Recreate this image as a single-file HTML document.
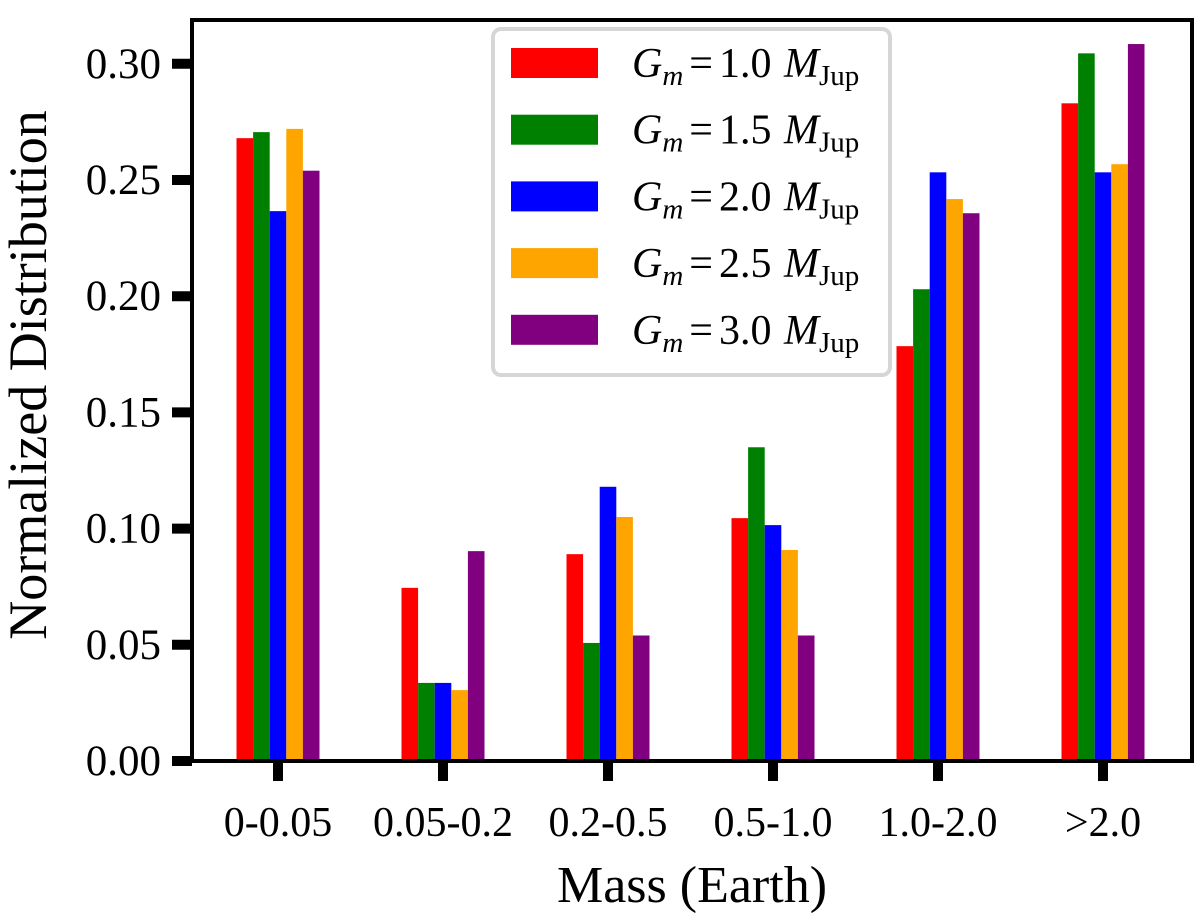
<!DOCTYPE html>
<html><head><meta charset="utf-8"><style>
body{margin:0;background:#fff}
svg{display:block;font-family:"Liberation Serif","DejaVu Serif",serif}
</style></head><body>
<svg id="chart" width="1200" height="913">
<g id="bars"></g>
<rect x="192" y="20" width="1000" height="741" fill="none" stroke="#000" stroke-width="4"/>
<g id="yaxis"></g>
<g id="xaxis"></g>
<text x="46" y="375" font-size="54" text-anchor="middle" transform="rotate(-90 46 375)">Normalized Distribution</text>
<text x="692" y="902" font-size="52" text-anchor="middle">Mass (Earth)</text>
<g id="legend">
<rect x="493" y="29" width="397" height="346" rx="8" fill="#fff" stroke="#d6d6d6" stroke-width="4"/>
</g>
</svg>
<script>
const categories=["0-0.05","0.05-0.2","0.2-0.5","0.5-1.0","1.0-2.0",">2.0"];
const seriesNames=["1.0","1.5","2.0","2.5","3.0"];
const seriesColors=["#ff0000","#008000","#0000ff","#ffa500","#800080"];
const s10=[0.268,0.0745,0.089,0.1045,0.1785,0.283];
const s15=[0.2706,0.0336,0.0508,0.135,0.203,0.3045];
const s20=[0.2366,0.0336,0.118,0.1015,0.2533,0.2533];
const s25=[0.272,0.0305,0.105,0.0908,0.2418,0.2568];
const s30=[0.254,0.0903,0.054,0.054,0.2357,0.3085];
const yTicks=[0,0.05,0.1,0.15,0.2,0.25,0.3];
const series=[s10,s15,s20,s25,s30];
const NS="http://www.w3.org/2000/svg";
const y0=761,pxPer=116.2/0.05;
function yS(v){return y0-v*pxPer;}
function xC(i){return 278+i*165;}
const bw=16.6;
function mk(t,a,p){const e=document.createElementNS(NS,t);for(const k in a)e.setAttribute(k,a[k]);p.appendChild(e);return e;}
const bars=document.getElementById('bars');
series.forEach((s,j)=>{s.forEach((v,i)=>{
 const r=mk('rect',{x:xC(i)+(j-2.5)*bw,y:yS(v),width:bw,height:y0-yS(v),fill:seriesColors[j]},bars);
 
 
});});
const ya=document.getElementById('yaxis');
yTicks.forEach(t=>{
 const l=mk('line',{x1:172,x2:192,y1:yS(t),y2:yS(t),stroke:'#000','stroke-width':10},ya);
 
 
 const tx=mk('text',{x:161,y:yS(t)+14,'font-size':43,'text-anchor':'end'},ya);
 tx.textContent=t.toFixed(2);
 
 
});
const xa=document.getElementById('xaxis');
categories.forEach((c,i)=>{
 const l=mk('line',{x1:xC(i),x2:xC(i),y1:761,y2:781,stroke:'#000','stroke-width':10},xa);
 
 
 const tx=mk('text',{x:xC(i),y:836,'font-size':42,'text-anchor':'middle'},xa);
 tx.textContent=c;
 
 
});
const lg=document.getElementById('legend');
seriesNames.forEach((n,j)=>{
 const yc=63+j*66.7;
 const r=mk('rect',{x:511,y:yc-15,width:87,height:30,fill:seriesColors[j]},lg);
 
 
 const t=mk('text',{x:632,y:yc+14,'font-size':42},lg);
 t.innerHTML='<tspan font-style="italic">G</tspan><tspan font-style="italic" font-size="29" dy="8">m</tspan><tspan dy="-8" dx="6">=</tspan><tspan dx="6">'+n+' </tspan><tspan font-style="italic" dx="2">M</tspan><tspan font-size="29" dy="8">Jup</tspan>';
 
 
});
</script>
</body></html>
